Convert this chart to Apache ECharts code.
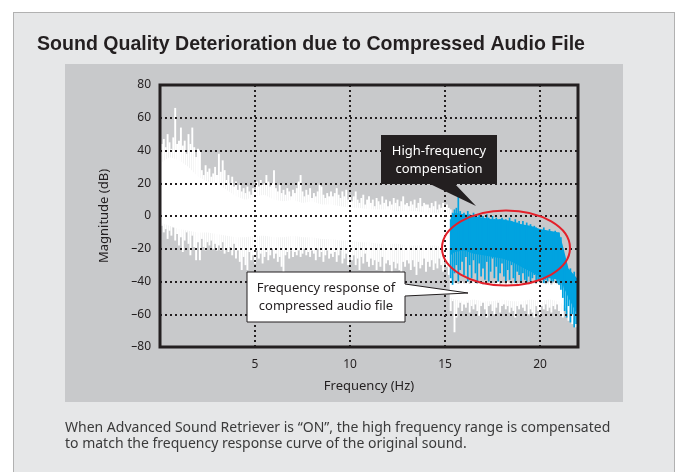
<!DOCTYPE html>
<html><head><meta charset="utf-8">
<script src="https://cdn.jsdelivr.net/npm/echarts@6/dist/echarts.min.js"></script>
<style>
html,body{margin:0;padding:0;background:#fff;}
#wrap{position:relative;width:677px;height:472px;overflow:hidden;}
#frame{position:absolute;left:13px;top:12px;width:662px;height:480px;background:#e6e7e8;border:1px solid #b1b1b1;box-sizing:border-box;}
#panel{position:absolute;left:65px;top:64px;width:558px;height:338px;background:#c8c9cb;}
#chart{position:absolute;left:0;top:0;width:677px;height:472px;}
</style></head>
<body>
<div id="wrap"><div id="frame"></div><div id="panel"></div><div id="chart"></div></div>
<script>
// ---- data ----
const titleText = 'Sound Quality Deterioration due to Compressed Audio File';
const captionLines = [
  'When Advanced Sound Retriever is \u201cON\u201d, the high frequency range is compensated',
  'to match the frequency response curve of the original sound.'
];
const binStart = 0.1, binStep = 0.1;           // 0.1 Hz spectrum bins
// white spectrum (compressed audio) spike tops / bottoms, 0.1 .. 22.0 Hz
const whiteHi = [
 44,47,42,50,45,41,48,66,44,46,
 54,43,46,38,50,44,54,42,36,41,
 40,28,25,31,27,29,24,26,30,25,
 38,27,34,28,22,25,20,24,18,21,
 16,19,15,17,14,18,15,13,17,16,
 21,18,22,19,20,25,21,18,20,28,
 17,15,19,14,16,13,17,15,12,16,
 14,17,21,25,15,12,16,13,17,11,
 14,12,15,19,18,13,11,14,12,15,
 12,14,17,13,11,15,12,16,10,13,
 9,12,15,10,8,11,13,7,10,12,
 8,10,6,11,9,7,12,8,10,6,
 9,7,11,8,10,6,9,12,7,8,
 6,9,7,10,5,8,11,6,8,7,
 7,5,8,6,9,4,7,5,8,6,
 7,5,4,-40,-41,-40,-42,-41,-40,-41,
 -41,-40,-42,-41,-40,-41,-42,-40,-41,-42,
 -40,-41,-42,-40,-41,-42,-41,-40,-42,-41,
 -41,-42,-40,-41,-42,-41,-40,-42,-41,-40,
 -42,-41,-40,-42,-41,-40,-41,-42,-40,-41,
 -41,-40,-42,-41,-40,-42,-41,-40,-41,-43,
 -42,-44,-46,-45,-48,-47,-50,-49,-52,-54
];
const whiteLo = [
 -6,-10,-8,-14,-9,-12,-7,-15,-11,-18,
 -13,-22,-15,-10,-17,-24,-12,-19,-27,-16,
 -27,-14,-19,-21,-16,-18,-15,-20,-17,-21,
 -18,-21,-16,-23,-20,-22,-19,-24,-17,-26,
 -21,-28,-33,-25,-30,-33,-22,-27,-24,-29,
 -21,-26,-23,-29,-25,-22,-27,-24,-20,-26,
 -23,-28,-25,-31,-35,-24,-22,-26,-21,-25,
 -22,-24,-21,-25,-23,-20,-24,-22,-25,-21,
 -23,-27,-20,-25,-22,-28,-24,-21,-26,-23,
 -25,-22,-28,-24,-21,-29,-26,-23,-30,-25,
 -27,-24,-30,-26,-33,-25,-29,-23,-28,-31,
 -26,-30,-27,-33,-28,-31,-25,-35,-29,-27,
 -30,-34,-28,-32,-29,-33,-36,-28,-31,-27,
 -29,-33,-27,-31,-36,-28,-32,-30,-26,-34,
 -28,-31,-27,-33,-29,-32,-26,-30,-34,-28,
 -31,-36,-58,-52,-71,-62,-56,-53,-58,-54,
 -56,-53,-59,-55,-57,-54,-58,-61,-55,-53,
 -57,-62,-55,-54,-58,-60,-56,-53,-59,-55,
 -54,-57,-55,-59,-56,-58,-62,-55,-57,-54,
 -56,-58,-54,-60,-57,-59,-62,-55,-58,-61,
 -55,-57,-54,-58,-56,-59,-55,-57,-54,-58,
 -61,-62,-56,-58,-64,-60,-66,-62,-68,-63
];
// solid body of the white spectrum
const whiteBodyX1  = [0,0.5,1,1.5,2,2.5,3,3.5,4,4.5,5,5.5,6,6.5,7,7.5,8,8.5,9,9.5,10,10.5,11,11.5,12,12.5,13,13.5,14,14.5,15,15.3];
const whiteBodyHi1 = [32,36,34,30,24,21,20,16,12,10,12,13,10,9,10,8,9,7,7,6,5,5,4,4,4,3,3,3,2,2,2,1];
const whiteBodyLo1 = [-4,-6,-8,-9,-10,-10,-11,-12,-13,-13,-12,-12,-13,-13,-12,-13,-13,-14,-14,-15,-15,-16,-16,-17,-17,-17,-18,-18,-18,-18,-19,-20];
const whiteBodyX2  = [15.3,15.5,16,16.5,17,17.5,18,18.5,19,19.5,20,20.5,21,21.2,21.5,22];
const whiteBodyHi2 = [-41,-41,-42,-41,-42,-41,-42,-42,-41,-42,-41,-42,-42,-44,-48,-52];
const whiteBodyLo2 = [-50,-51,-52,-51,-52,-52,-51,-52,-52,-51,-52,-51,-52,-54,-58,-60];
// blue compensation, spikes 15.3 .. 21.9 Hz
const blueStart = 15.3;
const blueHi = [
 -2,2,4,5,12,3,1,
 2,0,3,1,-1,2,0,-2,1,-1,
 0,-2,1,-1,-3,0,-2,-1,-3,-2,
 -1,-3,-2,-4,-1,-3,-5,-2,-4,-3,
 -5,-3,-6,-4,-7,-5,-8,-6,-7,-9,
 -8,-10,-7,-9,-11,-8,-10,-12,-9,-11,
 -10,-13,-22,-30,-33,-35,-32,-36,-34,-38
];
const blueLo = [
 -38,-42,-35,-30,-40,-33,-28,
 -36,-25,-40,-30,-38,-27,-35,-41,-29,-37,
 -32,-39,-28,-40,-34,-26,-38,-31,-40,-35,
 -29,-37,-40,-33,-39,-30,-38,-41,-34,-36,
 -40,-35,-39,-41,-37,-40,-38,-36,-41,-39,
 -40,-38,-41,-39,-40,-37,-41,-40,-38,-41,
 -42,-45,-50,-58,-62,-55,-65,-60,-68,-66
];
const blueBodyX  = [15.3,15.5,16,16.5,17,17.5,18,18.5,19,19.5,20,20.5,21,21.2,21.5,21.95];
const blueBodyHi = [0,2,1,0,-1,-2,-2,-3,-5,-6,-8,-9,-10,-18,-32,-38];
const blueBodyLo = [-24,-22,-21,-23,-24,-25,-26,-28,-31,-34,-37,-38,-39,-42,-50,-60];

// ---- chart ----
const FONT = '"Noto Sans", "Open Sans", sans-serif';
const INK = '#231f20';
const WHITE = '#ffffff', BLUE = '#00a3e0';

function spikeData(start, hi, lo){
  return hi.map((h,i)=>[+(start + i*binStep).toFixed(2), lo[i], h]);
}
function spikeItem(color, w){
  return function(params, api){
    const x = api.value(0);
    const a = api.coord([x, api.value(1)]);
    const b = api.coord([x, api.value(2)]);
    return {type:'line', shape:{x1:a[0],y1:a[1],x2:b[0],y2:b[1]}, style:{stroke:color, lineWidth:w}};
  };
}
function bandItem(xs, hi, lo, color){
  return function(params, api){
    if (params.dataIndex !== 0) return null;
    const pts = [];
    for (let i=0;i<xs.length;i++) pts.push(api.coord([xs[i], hi[i]]));
    for (let i=xs.length-1;i>=0;i--) pts.push(api.coord([xs[i], lo[i]]));
    return {type:'polygon', shape:{points:pts}, style:{fill:color}};
  };
}
function bandData(xs, hi, lo){ return xs.map((x,i)=>[x, lo[i], hi[i]]); }

// condensed bold title: measure and squeeze to the reference width
const TITLE_FONT = 'bold 21px "Liberation Sans", Arial, sans-serif';
const mc = document.createElement('canvas').getContext('2d');
mc.font = TITLE_FONT;
const titleScale = 548 / mc.measureText(titleText).width;

const chart = echarts.init(document.getElementById('chart'), null, {renderer:'canvas'});
const fmtY = v => v < 0 ? '\u2013' + Math.abs(v) : String(v);

chart.setOption({
  animation:false,
  backgroundColor:'transparent',
  grid:{ left:160, right:99, top:85, bottom:125, show:true, borderColor:INK, borderWidth:3, backgroundColor:'transparent', z:10 },
  xAxis:{ type:'value', min:0, max:22, interval:5, z:10,
    axisLine:{show:false}, axisTick:{show:false},
    axisLabel:{ showMinLabel:false, showMaxLabel:false, margin:12, color:INK, fontSize:12, fontFamily:FONT },
    splitLine:{ show:true, lineStyle:{ color:INK, width:2, type:[2,3] } },
    name:'Frequency (Hz)', nameLocation:'middle', nameGap:33,
    nameTextStyle:{ color:INK, fontSize:13, fontFamily:FONT } },
  yAxis:{ type:'value', min:-80, max:80, interval:20, z:10,
    axisLine:{show:false}, axisTick:{show:false},
    axisLabel:{ formatter:fmtY, margin:9, color:INK, fontSize:12, fontFamily:FONT },
    splitLine:{ show:true, lineStyle:{ color:INK, width:2, type:[2,3] } },
    name:'Magnitude (dB)', nameLocation:'middle', nameGap:49,
    nameTextStyle:{ color:INK, fontSize:13, fontFamily:FONT } },
  series:[
    { type:'custom', clip:true, z:2, renderItem:bandItem(whiteBodyX1, whiteBodyHi1, whiteBodyLo1, WHITE),
      data:bandData(whiteBodyX1, whiteBodyHi1, whiteBodyLo1), encode:{x:0, y:[1,2]} },
    { type:'custom', clip:true, z:2, renderItem:bandItem(whiteBodyX2, whiteBodyHi2, whiteBodyLo2, WHITE),
      data:bandData(whiteBodyX2, whiteBodyHi2, whiteBodyLo2), encode:{x:0, y:[1,2]} },
    { type:'custom', clip:true, z:3, renderItem:spikeItem(WHITE, 1.9),
      data:spikeData(binStart, whiteHi, whiteLo), encode:{x:0, y:[1,2]} },
    { type:'custom', clip:true, z:4, renderItem:bandItem(blueBodyX, blueBodyHi, blueBodyLo, BLUE),
      data:bandData(blueBodyX, blueBodyHi, blueBodyLo), encode:{x:0, y:[1,2]} },
    { type:'custom', clip:true, z:5, renderItem:spikeItem(BLUE, 1.7),
      data:spikeData(blueStart, blueHi, blueLo), encode:{x:0, y:[1,2]} }
  ],
  graphic:[
    { type:'text', z:101, x:37, y:44, scaleX:titleScale, style:{ text:titleText, fill:INK, font:TITLE_FONT, align:'left', verticalAlign:'middle' } },
    { type:'ellipse', z:100, shape:{cx:506, cy:248, rx:64, ry:37.5}, style:{ fill:'none', stroke:'#e3202a', lineWidth:2 } },
    { type:'polygon', z:100, shape:{ points:[[381,135],[497,135],[497,184],[455,184],[476,206],[430,184],[381,184]] }, style:{ fill:INK } },
    { type:'text', z:101, x:439, y:151, style:{ text:'High-frequency', fill:'#fff', font:'13px ' + FONT, align:'center', verticalAlign:'middle' } },
    { type:'text', z:101, x:439, y:169, style:{ text:'compensation', fill:'#fff', font:'13px ' + FONT, align:'center', verticalAlign:'middle' } },
    { type:'polygon', z:100, shape:{ points:[[247,272],[405,272],[405,284],[468,293],[405,296],[405,322],[247,322]] }, style:{ fill:'#fff', stroke:INK, lineWidth:1 } },
    { type:'text', z:101, x:326, y:288, style:{ text:'Frequency response of', fill:INK, font:'13px ' + FONT, align:'center', verticalAlign:'middle' } },
    { type:'text', z:101, x:326, y:306, style:{ text:'compressed audio file', fill:INK, font:'13px ' + FONT, align:'center', verticalAlign:'middle' } },
    { type:'text', z:101, x:65, y:428, style:{ text:captionLines[0], fill:'#3a3a3a', font:'14px ' + FONT, align:'left', verticalAlign:'middle' } },
    { type:'text', z:101, x:65, y:444, style:{ text:captionLines[1], fill:'#3a3a3a', font:'14px ' + FONT, align:'left', verticalAlign:'middle' } }
  ]
});
</script>
</body></html>
